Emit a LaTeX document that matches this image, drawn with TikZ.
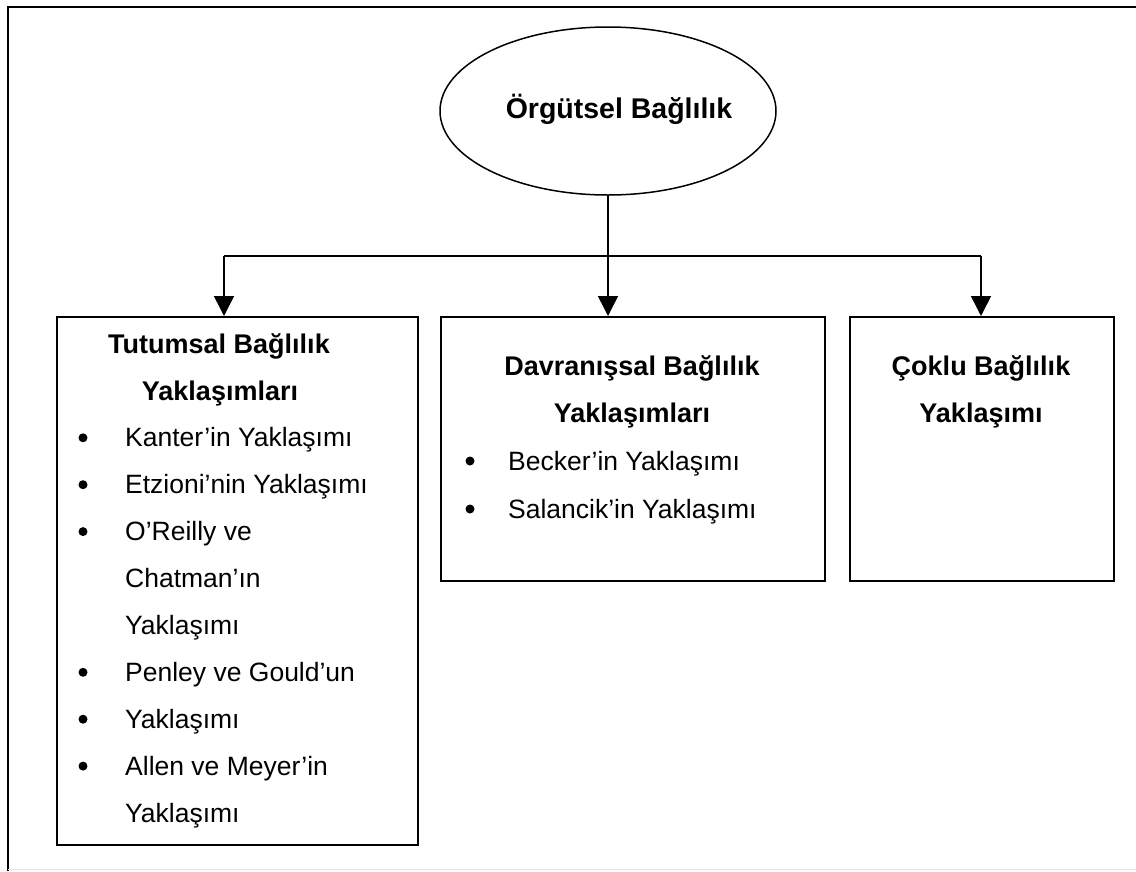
\documentclass[tikz,border=0pt]{standalone}
\usepackage{fontspec}
\setmainfont{Liberation Sans}
\usetikzlibrary{arrows.meta}
\usetikzlibrary{shapes.geometric}
\usetikzlibrary{positioning}

\tikzset{
  box/.style={draw, line width=1.5pt, inner sep=0pt, anchor=north west},
  arr/.style={line width=1.5pt, -{Triangle[width=20pt,length=20pt]}},
  head/.style={font=\bfseries\fontsize{27}{30}\selectfont, anchor=base, inner sep=0pt},
  item/.style={font=\fontsize{26.5}{30}\selectfont, anchor=base west, inner sep=0pt},
  dot/.style={circle, fill, inner sep=0pt, minimum size=9},
}

\begin{document}
\begin{tikzpicture}[x=1pt,y=-1pt]
        \useasboundingbox (0,0) rectangle (1136,871);
        % frame
        \draw[line width=2.5pt] (8,871) -- (8,7) -- (1136,7);
        \draw[black!10, line width=1pt] (8,869.5) -- (1136,869.5);
        % top
        \node[ellipse, draw, line width=1.5pt, minimum width=336, minimum height=168, inner sep=0pt] (org) at (608,111) {};
        \node[head, font=\bfseries\fontsize{28.5}{30}\selectfont] (orgt) at (619,118) {Örgütsel Bağlılık};
        % boxes
        \node[box, minimum width=361, minimum height=528] (tut) at (56,316) {};
        \node[box, minimum width=384, minimum height=264] (dav) at (440,316) {};
        \node[box, minimum width=264, minimum height=264] (cok) at (849,316) {};
        % connectors
        \coordinate (bus) at (608,256);
        \coordinate (a1) at (224,256);
        \coordinate (a3) at (981,256);
        \draw[line width=1.5pt] (org.south) -- (bus);
        \draw[line width=1.5pt] (a1) -- (a3);
        \draw[arr] (a1) -- (a1 |- tut.north);
        \draw[arr] (bus) -- (bus |- dav.north);
        \draw[arr] (a3) -- (a3 |- cok.north);
        % left box
        \node[head] (t1) at (219,353) {Tutumsal Bağlılık};
        \node[head] (t2) at (220,400) {Yaklaşımları};
        \foreach \txt/\dt [count=\i] in {Kanter’in Yaklaşımı/1, Etzioni’nin Yaklaşımı/1, O’Reilly ve/1, Chatman’ın/0, Yaklaşımı/0, Penley ve Gould’un/1, Yaklaşımı/1, Allen ve Meyer’in/1, Yaklaşımı/0}{
            \node[item] (ti\i) at (125,{353+(\i+1)*46.9}) {\txt};
            \ifnum\dt=1 \node[dot] (td\i) at (83,{344+(\i+1)*46.9}) {};\fi
        }
        % middle box
        \node[head] (d1) at (632,375) {Davranışsal Bağlılık};
        \node[head] (d2) at (632,422) {Yaklaşımları};
        \node[dot] (dd1) at (470,461) {};
        \node[item] (di1) at (508,470) {Becker’in Yaklaşımı};
        \node[dot] (dd2) at (470,509) {};
        \node[item] (di2) at (508,518) {Salancik’in Yaklaşımı};
        % right box
        \node[head] (c1) at (981,375) {Çoklu Bağlılık};
        \node[head] (c2) at (981,422) {Yaklaşımı};
\end{tikzpicture}
\end{document}
